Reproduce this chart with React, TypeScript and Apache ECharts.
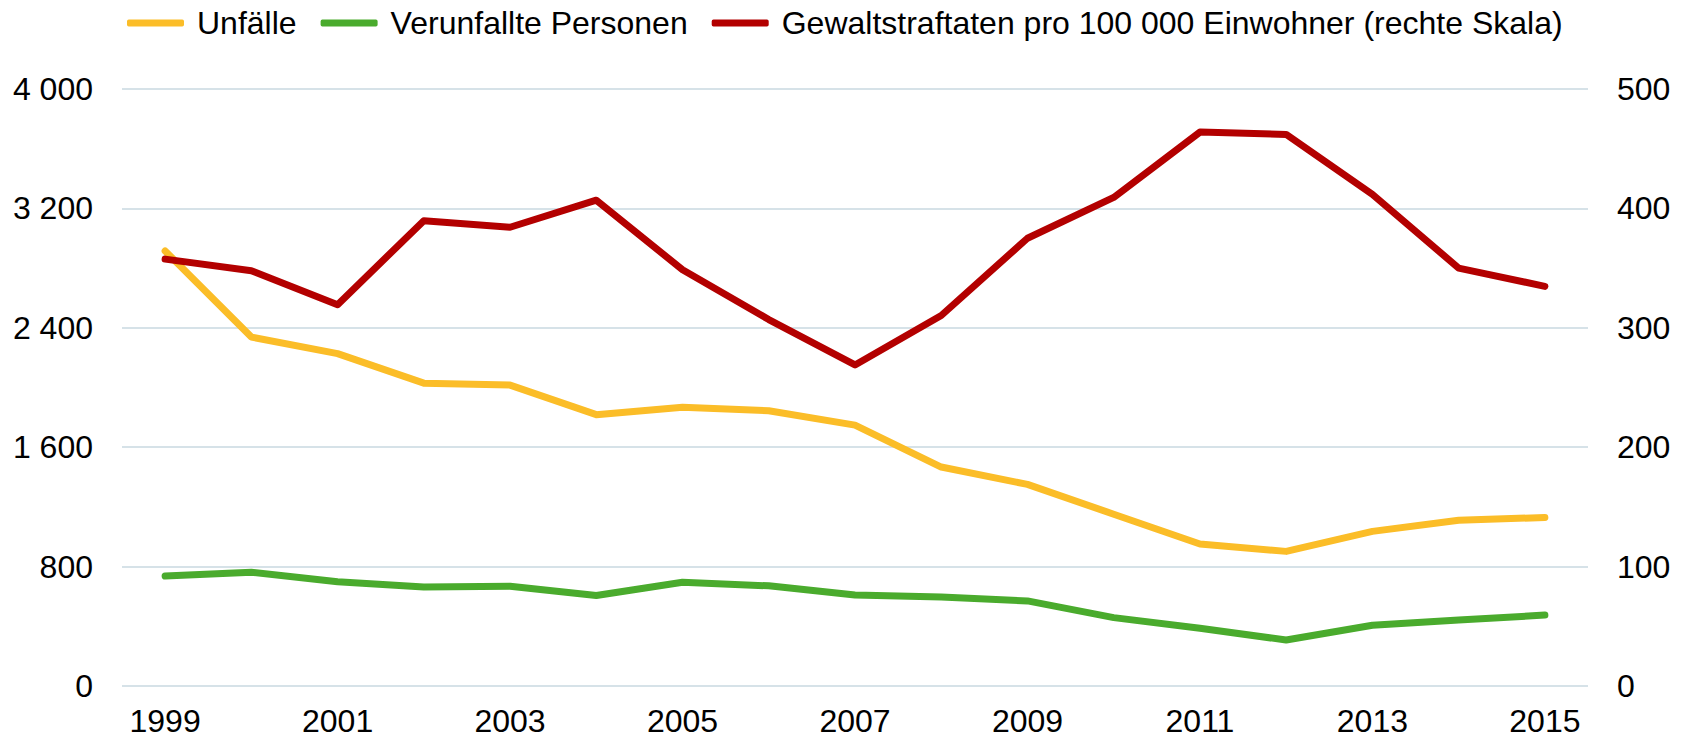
import React, { useEffect, useRef } from "react";
import * as echarts from "echarts";

const years = ["1999", "2000", "2001", "2002", "2003", "2004", "2005", "2006", "2007", "2008", "2009", "2010", "2011", "2012", "2013", "2014", "2015"];
const unfaelle = [2915, 2338, 2227, 2029, 2016, 1818, 1867, 1844, 1748, 1467, 1351, 1151, 951, 902, 1036, 1111, 1129];
const verunfallte = [737, 762, 699, 664, 668, 606, 695, 671, 610, 597, 570, 458, 387, 308, 407, 442, 475];
const gewalt = [357.5, 347.8, 319.4, 389.7, 384.2, 406.9, 348.6, 306.9, 268.9, 310.3, 375, 409.2, 463.9, 461.9, 411.7, 350, 334.7];

const seriesNames = ["Unfälle", "Verunfallte Personen", "Gewaltstraftaten pro 100 000 Einwohner (rechte Skala)"];
const colors = ["#FBBD28", "#4AAB2D", "#B30000"];

const FONT = "'Liberation Sans', Arial, Helvetica, sans-serif";

function fmt(v: number): string {
  const s = String(Math.round(v));
  return s.replace(/\B(?=(\d{3})+(?!\d))/g, " ");
}

export default function App() {
  const ref = useRef<HTMLDivElement>(null);
  useEffect(() => {
    document.body.style.margin = "0";
    if (!ref.current) return;
    const chart = echarts.init(ref.current, null, { renderer: "svg" });
    const lineSeries = (name: string, data: number[], color: string, yAxisIndex: number) => ({
      name,
      type: "line",
      data,
      yAxisIndex,
      showSymbol: false,
      symbol: "none",
      color,
      lineStyle: { width: 7, color, cap: "round", join: "round" },
      itemStyle: { color },
    });
    chart.setOption({
      animation: false,
      textStyle: { fontFamily: FONT },
      legend: {
        left: 122,
        top: 2,
        icon: "roundRect",
        itemWidth: 57,
        itemHeight: 7,
        itemGap: 24,
        textStyle: { fontFamily: FONT, fontSize: 32, color: "#000", padding: [0, 0, 0, 8] },
        data: seriesNames,
      },
      grid: { left: 122, right: 99, top: 89, bottom: 54, containLabel: false, outerBoundsMode: "none" },
      xAxis: {
        type: "category",
        data: years,
        boundaryGap: true,
        axisLine: { show: false },
        axisTick: { show: false },
        axisLabel: { interval: 1, fontSize: 32, color: "#000", fontFamily: FONT, margin: 19 },
        splitLine: { show: false },
      },
      yAxis: [
        {
          type: "value",
          min: 0,
          max: 4000,
          interval: 800,
          axisLine: { show: false },
          axisTick: { show: false },
          axisLabel: { fontSize: 32, color: "#000", fontFamily: FONT, margin: 29, formatter: (v: number) => fmt(v) },
          splitLine: { show: true, lineStyle: { color: "#C8D8E1", width: 1.5 } },
        },
        {
          type: "value",
          min: 0,
          max: 500,
          interval: 100,
          position: "right",
          axisLine: { show: false },
          axisTick: { show: false },
          axisLabel: { fontSize: 32, color: "#000", fontFamily: FONT, margin: 29 },
          splitLine: { show: false },
        },
      ],
      series: [
        lineSeries(seriesNames[0], unfaelle, colors[0], 0),
        lineSeries(seriesNames[1], verunfallte, colors[1], 0),
        lineSeries(seriesNames[2], gewalt, colors[2], 1),
      ],
    });
    return () => chart.dispose();
  }, []);
  return <div ref={ref} style={{ width: 1687, height: 740, background: "#fff" }} />;
}
